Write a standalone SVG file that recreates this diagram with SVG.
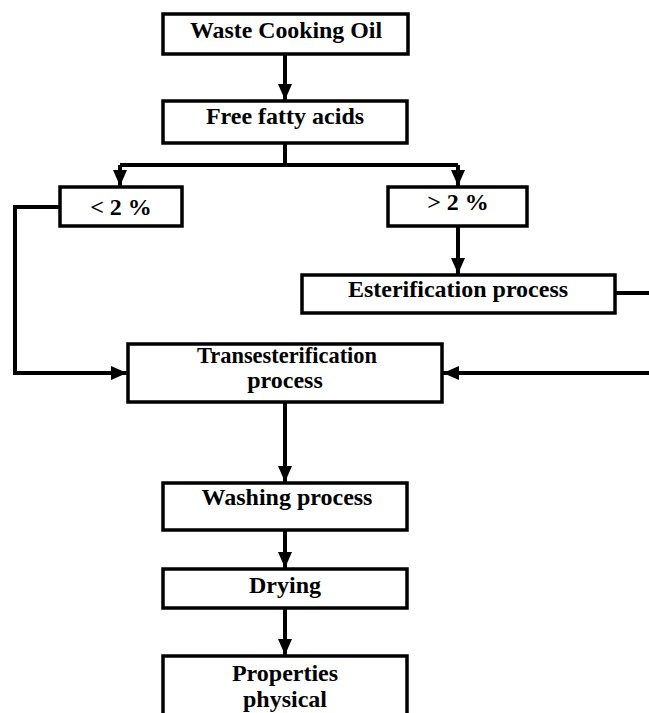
<svg xmlns="http://www.w3.org/2000/svg" width="649" height="713" viewBox="0 0 649 713">
<style>
.box{fill:#fff;stroke:#000;stroke-width:3.5}
.lbl{font-family:"Liberation Serif","Times New Roman",serif;font-weight:bold;font-size:24px;fill:#000;text-anchor:middle}
.con{fill:none;stroke:#000;stroke-width:4}
</style>
<defs>
<marker id="ah" markerUnits="userSpaceOnUse" markerWidth="16" markerHeight="16" viewBox="0 0 16 16" refX="16" refY="8" orient="auto">
<path d="M0,1 L16,8 L0,15 Z" fill="#000"/>
</marker>
</defs>
<rect width="649" height="713" fill="#fff"/>
<g id="connectors">
<path class="con" d="M285,54 V100" marker-end="url(#ah)"/>
<path class="con" d="M285,143 V165 M120,165 H458"/>
<path class="con" d="M120,165 V186" marker-end="url(#ah)"/>
<path class="con" d="M458,165 V186" marker-end="url(#ah)"/>
<path class="con" d="M59,207 H15 V373 H127" marker-end="url(#ah)"/>
<path class="con" d="M458,226 V274" marker-end="url(#ah)"/>
<path class="con" d="M615,293 H660 V373 H443" marker-end="url(#ah)"/>
<path class="con" d="M285,402 V482" marker-end="url(#ah)"/>
<path class="con" d="M285,530 V568" marker-end="url(#ah)"/>
<path class="con" d="M285,608 V655" marker-end="url(#ah)"/>
</g>
<g id="waste">
<rect class="box" x="163" y="14" width="245" height="40"/>
<text class="lbl" x="286" y="38" textLength="192" lengthAdjust="spacingAndGlyphs">Waste Cooking Oil</text>
</g>
<g id="ffa">
<rect class="box" x="163" y="101" width="244" height="42"/>
<text class="lbl" x="285" y="124">Free fatty acids</text>
</g>
<g id="lt2">
<rect class="box" x="60" y="187" width="122" height="39"/>
<text class="lbl" x="121" y="215">&lt; 2 %</text>
</g>
<g id="gt2">
<rect class="box" x="388" y="187" width="139" height="39"/>
<text class="lbl" x="458" y="210">&gt; 2 %</text>
</g>
<g id="ester">
<rect class="box" x="302" y="275" width="313" height="38"/>
<text class="lbl" x="458" y="297">Esterification process</text>
</g>
<g id="trans">
<rect class="box" x="128" y="344" width="314" height="58"/>
<text class="lbl" x="287" y="363" textLength="180" lengthAdjust="spacingAndGlyphs">Transesterification</text>
<text class="lbl" x="285" y="388">process</text>
</g>
<g id="washing">
<rect class="box" x="163" y="483" width="244" height="47"/>
<text class="lbl" x="287" y="505">Washing process</text>
</g>
<g id="drying">
<rect class="box" x="163" y="569" width="244" height="39"/>
<text class="lbl" x="285" y="593">Drying</text>
</g>
<g id="properties">
<rect class="box" x="163" y="656" width="244" height="70"/>
<text class="lbl" x="285" y="681">Properties</text>
<text class="lbl" x="285" y="707">physical</text>
</g>
</svg>
